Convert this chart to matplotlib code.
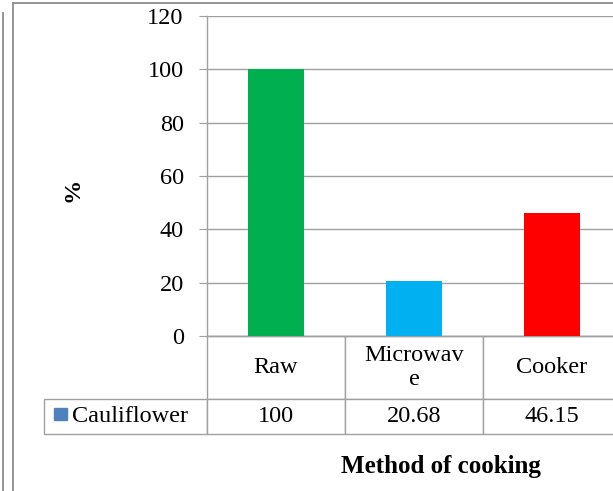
import matplotlib
matplotlib.use('Agg')
from matplotlib import pyplot as plt
from matplotlib.lines import Line2D
from matplotlib.patches import Rectangle

plt.rcParams['font.family'] = ['Liberation Serif', 'DejaVu Serif']

# data
categories = ['Raw', 'Microwave', 'Cooker']
header_labels = ['Raw', 'Microwav\ne', 'Cooker']
series_name = 'Cauliflower'
values = [100, 20.68, 46.15]
value_labels = ['100', '20.68', '46.15']
bar_colors = ['#00B050', '#00B0F0', '#FF0000']
legend_color = '#4F81BD'
yticks = [0, 20, 40, 60, 80, 100, 120]

W, H = 613, 491
grey = '#A0A0A0'
fs = 17.5
fig = plt.figure(figsize=(W / 100, H / 100), dpi=100)

# axes placed in pixel terms: left 207, right ~621 (cut off), top 16, bottom 336
ax = fig.add_axes([207 / W, (H - 336) / H, 414 / W, 320 / H])

x = range(len(categories))
ax.bar(x, values, width=0.4, color=bar_colors, zorder=3)
ax.set_xlim(-0.5, len(categories) - 0.5)
ax.set_ylim(0, 120)
ax.set_yticks(yticks)
ax.set_xticks([])
ax.yaxis.grid(True, color=grey, linewidth=1.0, zorder=0)
ax.set_axisbelow(True)
for s in ['top', 'right']:
    ax.spines[s].set_visible(False)
for s in ['left', 'bottom']:
    ax.spines[s].set_color(grey)
    ax.spines[s].set_linewidth(1.0)
ax.tick_params(axis='y', direction='out', length=5.8, color=grey, pad=11, labelsize=fs)

# data table under the axis (first column holds the series name)
lab_w = 163 / 414
rows = [[''] + header_labels, [series_name] + value_labels]
tbl = ax.table(cellText=rows, cellLoc='center', colWidths=[lab_w, 1 / 3, 1 / 3, 1 / 3],
               bbox=[-lab_w, -98 / 320, 1 + lab_w, 98 / 320])
tbl.auto_set_font_size(False)
tbl.set_fontsize(fs)
for (r, c), cell in tbl.get_celld().items():
    cell.set_edgecolor(grey)
    cell.set_linewidth(1.0)
    cell.set_height(63 / 320 if r == 0 else 35 / 320)
    if r == 0 and c == 0:
        cell.visible_edges = ''
    if r == 1 and c == 0:
        cell.get_text().set_horizontalalignment('left')
        cell.PAD = 0.17

# legend key in the table
ax.add_patch(Rectangle((-153 / 414, -84 / 320), 13 / 414, 12 / 320, transform=ax.transAxes,
                       color=legend_color, clip_on=False))

ax.text(0.565, -0.409, 'Method of cooking', transform=ax.transAxes, ha='center', va='center',
        fontsize=18, fontweight='bold')
ax.text(-0.324, 0.456, '%', transform=ax.transAxes, ha='center', va='center',
        rotation=90, fontsize=fs, fontweight='bold')

# outer frame lines
def px_line(x0, y0, x1, y1, color):
    fig.add_artist(Line2D([x0 / W, x1 / W], [1 - y0 / H, 1 - y1 / H],
                          transform=fig.transFigure, color=color, linewidth=1.3))

px_line(2.5, 13, 2.5, H, '#8C8C8C')
px_line(12.5, 3, 12.5, H, '#8C8C8C')
px_line(12.5, 3, W, 3, '#8C8C8C')

fig.savefig('out.png', dpi=100)
